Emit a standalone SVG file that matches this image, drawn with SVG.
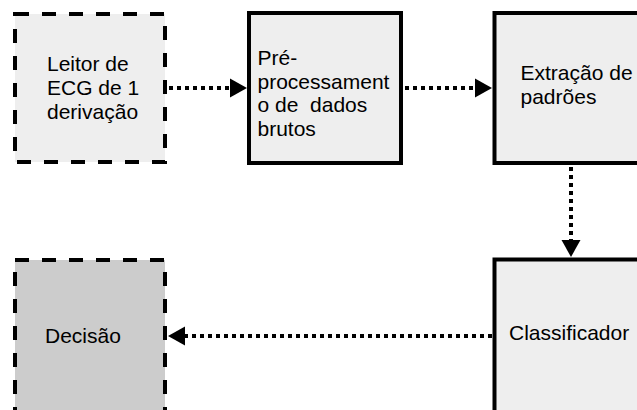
<svg xmlns="http://www.w3.org/2000/svg" width="637" height="410" viewBox="0 0 637 410">
  <style>
    .box { fill: #eeeeee; stroke: #000000; stroke-width: 4; }
    .dashed { stroke-dasharray: 14 13; }
    .dark { fill: #cccccc; }
    .label { font-family: "Liberation Sans", Arial, sans-serif; font-size: 21px; fill: #000000; white-space: pre; }
    .flow { fill: none; stroke: #000000; stroke-width: 4; stroke-dasharray: 4 4; }
  </style>
  <defs>
    <marker id="head" markerUnits="userSpaceOnUse" markerWidth="18" markerHeight="20" refX="0" refY="9.5" orient="auto" overflow="visible">
      <path d="M0,0 L17,9.5 L0,19 Z" fill="#000000" stroke="none"/>
    </marker>
  </defs>

  <rect width="637" height="410" fill="#ffffff"/>

  <!-- connectors -->
  <g id="connectors">
    <path class="flow" d="M169,88 L230,88" marker-end="url(#head)"/>
    <path class="flow" d="M405,88 L475,88" marker-end="url(#head)"/>
    <path class="flow" d="M571,167 L571,240" marker-end="url(#head)"/>
    <path class="flow" d="M492,336 L185,336" marker-end="url(#head)"/>
  </g>

  <g id="leitor">
    <rect class="box dashed" x="15" y="14" width="150" height="148"/>
    <text class="label" x="47" y="71">Leitor de</text>
    <text class="label" x="47" y="95">ECG de 1</text>
    <text class="label" x="47" y="118.5">derivação</text>
  </g>

  <g id="preprocessamento">
    <rect class="box" x="249" y="13" width="152" height="150"/>
    <text class="label" x="257.5" y="65">Pré-</text>
    <text class="label" x="257.5" y="88.5">processament</text>
    <text class="label" x="257.5" y="112">o de  dados</text>
    <text class="label" x="257.5" y="135.5">brutos</text>
  </g>

  <g id="extracao">
    <rect class="box" x="494.5" y="13" width="152" height="150"/>
    <text class="label" x="520.5" y="80">Extração de</text>
    <text class="label" x="520.5" y="104">padrões</text>
  </g>

  <g id="classificador">
    <rect class="box" x="494.5" y="259.5" width="152" height="160"/>
    <text class="label" x="509" y="340">Classificador</text>
  </g>

  <g id="decisao">
    <rect class="box dashed dark" x="15" y="260" width="150" height="160"/>
    <text class="label" x="45" y="343">Decisão</text>
  </g>
</svg>
